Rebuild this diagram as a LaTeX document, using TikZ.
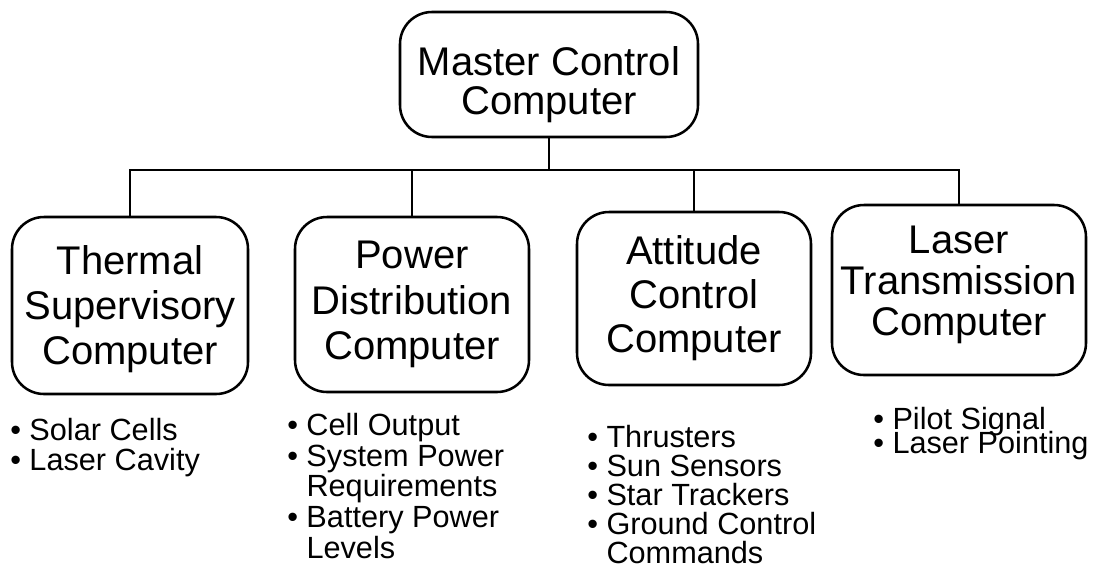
\documentclass[tikz,border=0pt]{standalone}
\usepackage{fontspec}
\setmainfont{Liberation Sans}
\usepackage{tikz}
\newcommand{\tightlines}{\lineskiplimit-100pt\relax}

\begin{document}
\begin{tikzpicture}[x=0.75pt,y=-0.75pt,
  unit/.style={draw, line width=1.9pt, rounded corners=24pt, align=center, inner sep=0pt, font=\fontsize{30}{34}\selectfont},
  items/.style={anchor=base west, align=left, inner sep=0pt},
  wire/.style={line width=1.9pt}]

\useasboundingbox (0,0) rectangle (1099,579);

\node[unit, minimum width=223.5pt, minimum height=93.75pt, font=\fontsize{30}{29.25}\selectfont] (mcc) at (549,74.5) {\rule{0pt}{37pt}Master Control\\Computer};

\node[unit, minimum width=177pt, minimum height=132.75pt] (tsc) at (130,305.5) {\rule{0pt}{27pt}Thermal\\Supervisory\\Computer};

\node[unit, minimum width=175.5pt, minimum height=131.25pt] (pdc) at (412,304.5) {Power\\Distribution\\Computer};

\node[unit, minimum width=175.5pt, minimum height=129.75pt, font=\fontsize{30}{33}\selectfont] (acc) at (694,298.5) {Attitude\\Control\\Computer};

\node[unit, minimum width=190.5pt, minimum height=127.5pt, font=\fontsize{30}{31}\selectfont] (ltc) at (959,290) {Laser\\Transmission\\Computer\rule[-14pt]{0pt}{0pt}};

\coordinate (bus) at (552,170);

\draw[wire] (mcc.south) -- (mcc.south |- bus);
\draw[wire] (tsc.north) |- (bus) -| (ltc.north);
\draw[wire] (pdc.north) -- (pdc.north |- bus);
\draw[wire] (acc.north) -- (acc.north |- bus);

\node[items, font=\fontsize{23}{22.5}\selectfont] (tsclist) at (10,470) {• Solar Cells\\• Laser Cavity};

\node[items, font=\fontsize{23}{23}\selectfont] (pdclist) at (287,558) {• Cell Output\\• System Power\\\hphantom{• }Requirements\\• Battery Power\\\hphantom{• }Levels};

\node[items, font=\fontsize{23}{21.75}\selectfont] (acclist) at (587,563) {• Thrusters\\• Sun Sensors\\• Star Trackers\\• Ground Control\\\hphantom{• }Commands};

\node[items, font=\fontsize{23}{17.5}\selectfont\tightlines] (ltclist) at (873,453) {• Pilot Signal\\• Laser Pointing};

\end{tikzpicture}
\end{document}
